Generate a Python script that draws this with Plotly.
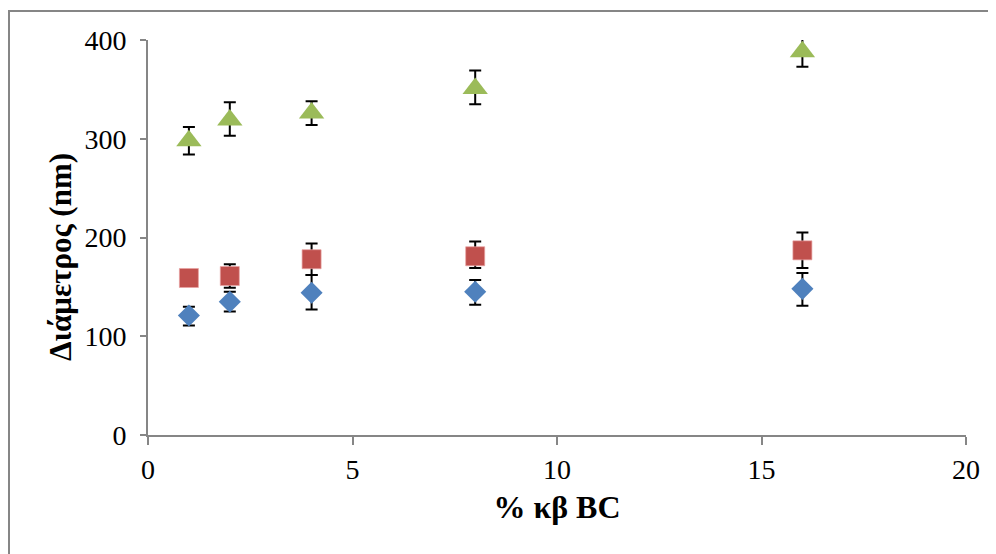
import plotly.graph_objects as go

x_vals = [1, 2, 4, 8, 16]

blue_y = [121, 135, 144, 145, 148]
blue_plus = [9, 10, 18, 12, 16]
blue_minus = [10, 10, 17, 13, 17]

red_y = [159, 161, 178, 181, 187]
red_plus = [5, 12, 16, 15, 18]
red_minus = [5, 12, 16, 12, 18]

green_y = [298, 319, 326, 351, 388]
green_plus = [14, 18, 12, 18, 13]
green_minus = [14, 16, 12, 16, 15]

x_title = "% κβ BC"
y_title = "Διάμετρος (nm)"

FONT = "Liberation Serif"
OFF = 8  # page body margin
W, H = 996, 554
L, R, T, B = 148 - OFF, 30 + OFF, 40 - OFF, 119 + OFF
pw, ph = W - L - R, H - T - B

def err(plus, minus):
    return dict(type="data", symmetric=False, array=plus, arrayminus=minus,
                color="black", thickness=2, width=6)

fig = go.Figure()
fig.add_trace(go.Scatter(x=x_vals, y=blue_y, mode="markers",
                         marker=dict(symbol="diamond", size=17, color="#4F81BD",
                                     line=dict(width=0)),
                         error_y=err(blue_plus, blue_minus)))
fig.add_trace(go.Scatter(x=x_vals, y=red_y, mode="markers",
                         marker=dict(symbol="square", size=19, color="#C0504D",
                                     line=dict(width=0.7, color="#E8A0A0")),
                         error_y=err(red_plus, red_minus)))
fig.add_trace(go.Scatter(x=x_vals, y=green_y, mode="markers",
                         marker=dict(symbol="triangle-up", size=22, color="#9BBB59",
                                     line=dict(width=0)),
                         error_y=err(green_plus, green_minus)))

axis_common = dict(showgrid=False, zeroline=False, showline=True,
                   linecolor="#868686", linewidth=2, ticks="outside",
                   tickcolor="#868686", tickwidth=2,
                   tickfont=dict(family=FONT, size=28, color="black"))

fig.update_xaxes(range=[0, 20], tickvals=[0, 5, 10, 15, 20], ticklen=8,
                 title=dict(text=f"<b>{x_title}</b>", standoff=12,
                            font=dict(family=FONT, size=32, color="black")),
                 **axis_common)
fig.update_yaxes(range=[0, 400], tickvals=[0, 100, 200, 300, 400], ticklen=6,
                 ticklabelstandoff=8, **axis_common)

def px_to_paper_x(px):
    # px in screen coordinates
    return (px - OFF - L) / pw

def px_to_paper_y(py):
    return (H - B - (py - OFF)) / ph

fig.add_annotation(text=f"<b>{y_title}</b>", textangle=-90, showarrow=False,
                   xref="paper", yref="paper",
                   x=px_to_paper_x(60), y=px_to_paper_y(257),
                   xanchor="center", yanchor="middle",
                   font=dict(family=FONT, size=31, color="black"))

fig.add_shape(type="rect", xref="paper", yref="paper",
              x0=px_to_paper_x(9), x1=px_to_paper_x(1018),
              y0=px_to_paper_y(578), y1=px_to_paper_y(11),
              line=dict(color="#868686", width=2), fillcolor="rgba(0,0,0,0)",
              layer="below")

fig.update_layout(width=W, height=H, margin=dict(l=L, r=R, t=T, b=B),
                  plot_bgcolor="white", paper_bgcolor="white",
                  font=dict(family=FONT), showlegend=False)

fig.write_html("out.html")
